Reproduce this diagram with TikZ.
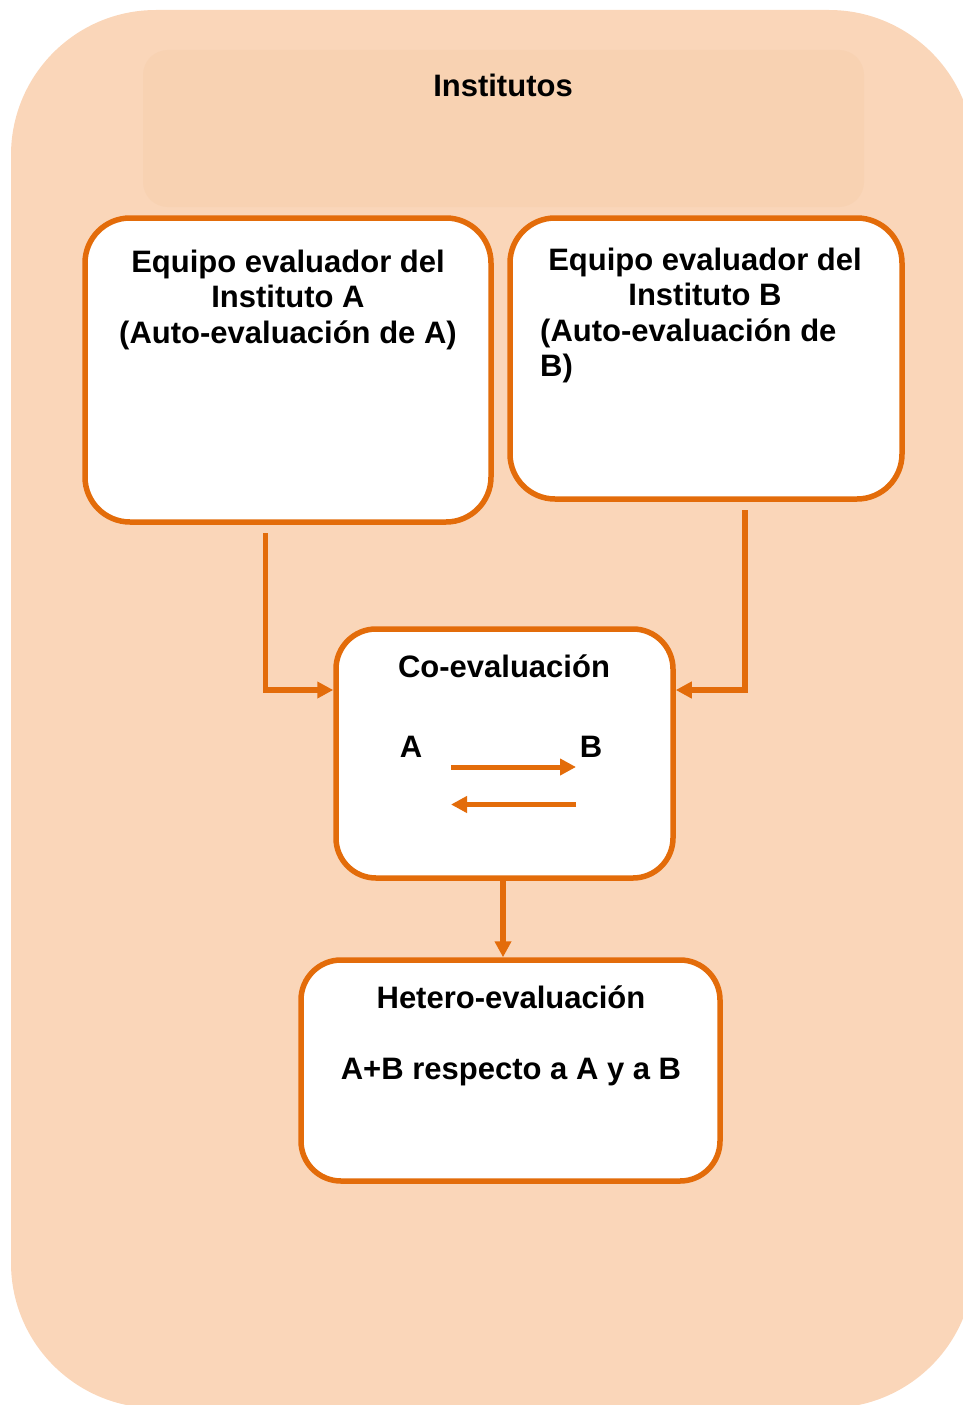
\documentclass[tikz,border=0pt]{standalone}
\usepackage{fontspec}
\setmainfont{Liberation Sans}
\usetikzlibrary{arrows.meta}
\definecolor{bgor}{HTML}{FAD6B9}
\definecolor{hdor}{HTML}{F8D2B2}
\definecolor{dkor}{HTML}{E36C0A}
\tikzset{
  box/.style={draw=dkor, line width=5.5pt, fill=white, rounded corners=45pt, inner sep=0pt},
  txt/.style={font=\fontsize{31}{36}\selectfont\bfseries, inner sep=0pt, text=black},
  conn/.style={draw=dkor, line width=5.5pt, -{Triangle[length=16pt,width=16pt]}},
  inarrow/.style={draw=dkor, line width=5pt, -{Triangle[length=16pt,width=16pt]}}
}
\begin{document}
\begin{tikzpicture}[x=1pt,y=-1pt]
\useasboundingbox (0,0) rectangle (963,1405);
\begin{scope}
\clip (0,0) rectangle (963,1405);
\fill[bgor, rounded corners=145pt] (11,10) rectangle (974,1408);
\end{scope}
\fill[hdor, rounded corners=25pt] (143,50) rectangle (864,207);
\node[txt, anchor=base] (tInst) at (503,96) {Institutos};

% boxes
\node[box, minimum width=406pt, minimum height=304pt] (boxA) at (288,370) {};
\node[box, minimum width=392pt, minimum height=281pt] (boxB) at (706,358.5) {};
\node[box, rounded corners=40pt, minimum width=337pt, minimum height=249pt] (co) at (504.5,753.5) {};
\node[box, rounded corners=40pt, minimum width=419pt, minimum height=221pt] (het) at (510.5,1070.5) {};

% box A text
\node[txt, anchor=base] (a1) at (288,272) {Equipo evaluador del};
\node[txt, anchor=base] (a2) at (288,307.5) {Instituto A};
\node[txt, anchor=base] (a3) at (288,343) {(Auto-evaluación de A)};

% box B text
\node[txt, anchor=base] (b1) at (705,270) {Equipo evaluador del};
\node[txt, anchor=base] (b2) at (705,305.5) {Instituto B};
\node[txt, anchor=base west] (b3) at (540,341) {(Auto-evaluación de};
\node[txt, anchor=base west] (b4) at (540,376.5) {B)};

% co-evaluacion text
\node[txt, anchor=base] (c1) at (504,677) {Co-evaluación};
\node[txt, anchor=base] (cA) at (411,757) {A};
\node[txt, anchor=base] (cB) at (591,757) {B};
\coordinate (ar1s) at (451,767);
\coordinate (ar1e) at (576,767);
\coordinate (ar2s) at (576,804.5);
\coordinate (ar2e) at (451,804.5);
\draw[inarrow] (ar1s) -- (ar1e);
\draw[inarrow] (ar2s) -- (ar2e);

% hetero text
\node[txt, anchor=base] (h1) at (511,1008) {Hetero-evaluación};
\node[txt, anchor=base] (h2) at (511,1079) {A+B respecto a A y a B};

% connectors
\coordinate (sA) at (265.5,533);
\coordinate (sB) at (745,510);
\draw[conn] (sA) |- ([yshift=63.5pt]co.west);
\draw[conn] (sB) |- ([yshift=63.5pt]co.east);
\draw[conn] ([xshift=-1.5pt]co.south) -- ([xshift=-1.5pt]co.south |- het.north);
\end{tikzpicture}
\end{document}
